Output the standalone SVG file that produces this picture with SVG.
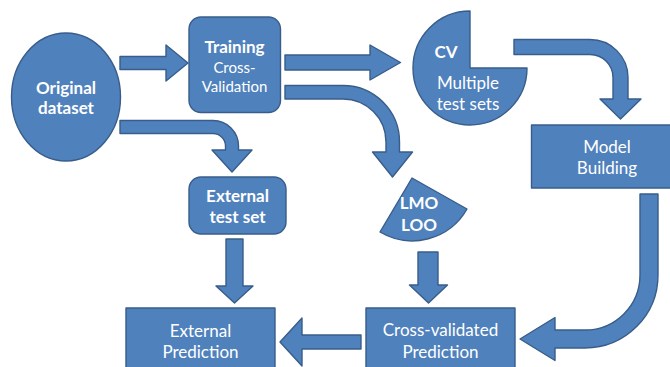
<svg xmlns="http://www.w3.org/2000/svg" width="670" height="367" viewBox="0 0 670 367">
<style>
.s{fill:#4F81BD;stroke:#385D8A;stroke-width:1.4;stroke-linejoin:round}
.t{font-family:Lato,"Open Sans","Liberation Sans",sans-serif;fill:#fff;text-anchor:middle;font-size:17px}
.b{font-weight:bold}
.sm{font-size:15px}
</style>
<rect width="670" height="367" fill="#fff"/>
<g id="connectors">
<path class="s" d="M120,56.5 H166 V45 L188,63 L166,81 V69.5 H120 Z"/>
<path class="s" d="M285,55 H370 V45 L400.5,62.5 L370,80 V70 H285 Z"/>
<path class="s" d="M120,120.5 H213 A25.5,25.5 0 0 1 238.5,146 V150 H252 L232,172 L212,150 H225.5 V146 A12.5,12.5 0 0 0 213,133.5 H120 Z"/>
<path class="s" d="M285,85.5 H343 A56.5,56.5 0 0 1 399.5,142 V152 H412.5 L392.5,177 L372.5,152 H386 V142 A43,43 0 0 0 343,99 H285 Z"/>
<path class="s" d="M514,39.5 H590 A38,38 0 0 1 628,77.5 V99 H641 L620.5,119 L600,99 H613 V77.5 A23,23 0 0 0 590,54.5 H514 Z"/>
<path class="s" d="M640,194 H658 V275 A73,73 0 0 1 585,348 H555 V360.5 L520,339 L555,317.5 V330 H585 A55,55 0 0 0 640,275 Z"/>
<path class="s" d="M226,239 H243 V286 H253 L234.5,303 L216,286 H226 Z"/>
<path class="s" d="M418,252 H438 V285 H447.5 L428.5,303 L409.5,285 H418 Z"/>
<path class="s" d="M361,335 V349 H302 V366 L280,342 L302,318 V335 Z"/>
</g>
<g id="original">
<ellipse class="s" cx="66" cy="97" rx="54.5" ry="64"/>
<text class="t b" x="66" y="94">Original</text>
<text class="t b" x="66" y="114">dataset</text>
</g>
<g id="training">
<rect class="s" x="189" y="17" width="91.5" height="95.5" rx="12"/>
<text class="t b" x="234.5" y="52.5">Training</text>
<text class="t sm" x="234.5" y="73">Cross-</text>
<text class="t sm" x="234.5" y="91.5">Validation</text>
</g>
<g id="cv">
<path class="s" d="M470,68 V11 A57,57 0 1 0 527,68 Z"/>
<text class="t b" x="446" y="57.5">CV</text>
<text class="t" x="468" y="89">Multiple</text>
<text class="t" x="468" y="110">test sets</text>
</g>
<g id="model">
<rect class="s" x="531.5" y="125" width="150" height="63"/>
<text class="t" x="607" y="152.5">Model</text>
<text class="t" x="607" y="174">Building</text>
</g>
<g id="lmo">
<path class="s" d="M412,178 L467,209 A63,63 0 0 1 380,232 Z"/>
<text class="t b" x="419" y="209">LMO</text>
<text class="t b" x="419" y="231">LOO</text>
</g>
<g id="external-test">
<rect class="s" x="189" y="177" width="97" height="57" rx="12"/>
<text class="t b" x="237.5" y="202">External</text>
<text class="t b" x="237.5" y="222.5">test set</text>
</g>
<g id="external-prediction">
<rect class="s" x="126" y="308" width="149" height="75"/>
<text class="t" x="200.5" y="337">External</text>
<text class="t" x="200.5" y="357.5">Prediction</text>
</g>
<g id="cv-prediction">
<rect class="s" x="366" y="308" width="149" height="75"/>
<text class="t" x="440.5" y="336">Cross-validated</text>
<text class="t" x="440.5" y="357.5">Prediction</text>
</g>
</svg>
